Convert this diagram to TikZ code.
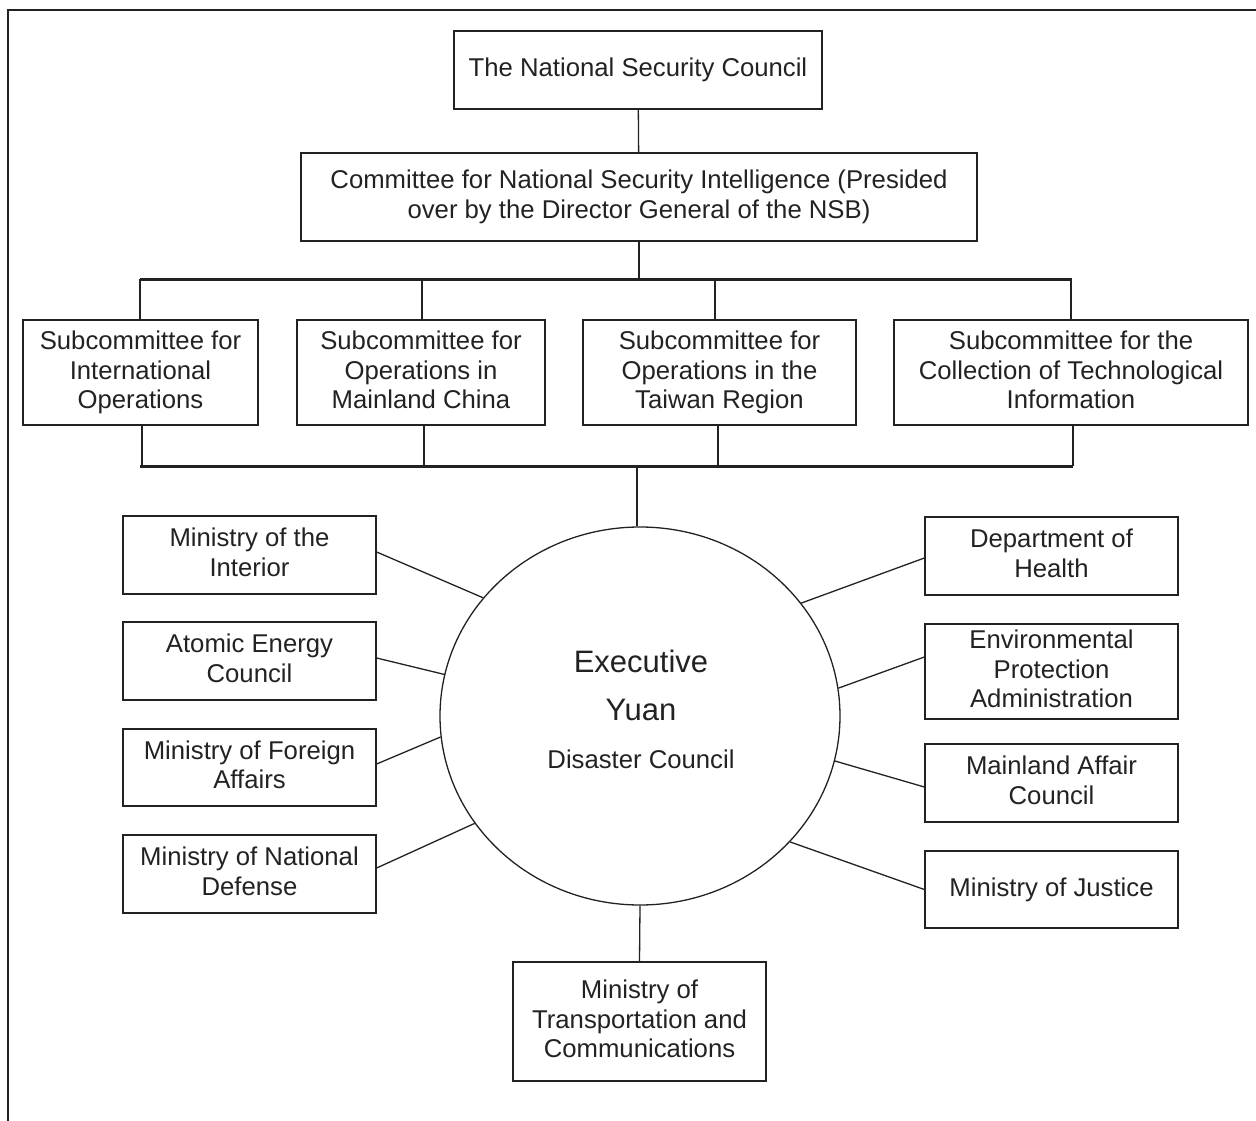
\documentclass[tikz,border=0pt]{standalone}
\usepackage{fontspec}
\setmainfont{Liberation Sans}
\usetikzlibrary{shapes.geometric}
\definecolor{ink}{HTML}{222222}

\begin{document}
\begin{tikzpicture}[x=1pt,y=-1pt,
  box/.style={draw=ink, line width=1.3pt, text=ink, align=center, inner sep=0pt,
              text depth=5.5pt, font=\fontsize{25.7}{29.2}\selectfont},
  sz/.style 2 args={minimum width=#1pt, minimum height=#2pt},
  link/.style={draw=ink, line width=1.3pt},
  bus/.style={draw=ink, line width=3pt},
  frameline/.style={draw=ink, line width=2pt},
  label/.style={text=ink, inner sep=0pt, anchor=base}]

\useasboundingbox (0,0) rectangle (1256,1121);

% outer frame (top and left edges)
\coordinate (fbl) at (8,1121);
\coordinate (ftl) at (8,10);
\coordinate (ftr) at (1256,10);
\draw[frameline] (fbl) -- (ftl) -- (ftr);

% top of the hierarchy
\node[box, sz={368}{78}] (nsc) at (638,70) {The National Security Council};
\node[box, sz={676}{88}] (cnsi) at (639,197)
  {Committee for National Security Intelligence (Presided\\over by the Director General of the NSB)};

% subcommittees
\node[box, sz={235}{105}] (s1) at (140.5,372.5) {Subcommittee for\\International\\Operations};
\node[box, sz={248}{105}] (s2) at (421,372.5) {Subcommittee for\\Operations in\\Mainland China};
\node[box, sz={273}{105}] (s3) at (719.5,372.5) {Subcommittee for\\Operations in the\\Taiwan Region};
\node[box, sz={354}{105}] (s4) at (1071,372.5) {Subcommittee for the\\Collection of Technological\\Information};

% Executive Yuan disaster council
\node[draw=ink, line width=1.3pt, ellipse, inner sep=0pt, sz={400}{378}] (ey) at (640,716) {};
\node[label, font=\fontsize{31}{36}\selectfont] (eyt1) at (641,672) {Executive};
\node[label, font=\fontsize{31}{36}\selectfont] (eyt2) at (641,720) {Yuan};
\node[label, font=\fontsize{25.7}{30}\selectfont] (eyt3) at (641,768) {Disaster Council};

% ministries on the left
\node[box, sz={253}{78}] (moi) at (249.5,555) {Ministry of the\\Interior};
\node[box, sz={253}{78}] (aec) at (249.5,661) {Atomic Energy\\Council};
\node[box, sz={253}{77}] (mofa) at (249.5,767.5) {Ministry of Foreign\\Affairs};
\node[box, sz={253}{78}] (mond) at (249.5,874) {Ministry of National\\Defense};

% ministries on the right
\node[box, sz={253}{78}] (doh) at (1051.5,556) {Department of\\Health};
\node[box, sz={253}{95}] (epa) at (1051.5,671.5) {Environmental\\Protection\\Administration};
\node[box, sz={253}{78}] (mac) at (1051.5,783) {Mainland Affair\\Council};
\node[box, sz={253}{77}] (moj) at (1051.5,889.5) {Ministry of Justice};

% ministry below
\node[box, sz={253}{119}] (mtc) at (639.5,1021.5) {Ministry of\\Transportation and\\Communications};

% upper bus
\coordinate (tbL) at (140,279);
\coordinate (tbR) at (1072,279);
\draw[link] (nsc) -- (cnsi);
\draw[link] (cnsi.south) -- (cnsi.south |- tbL);
\draw[bus] (tbL) -- (tbR);
\draw[link] ([xshift=-0.5pt]s1.north) -- ([xshift=-0.5pt]s1.north |- tbL);
\draw[link] ([xshift=1pt]s2.north) -- ([xshift=1pt]s2.north |- tbL);
\draw[link] ([xshift=-4.5pt]s3.north) -- ([xshift=-4.5pt]s3.north |- tbL);
\draw[link] (s4.north) -- (s4.north |- tbL);

% lower bus
\coordinate (bbL) at (140,466);
\coordinate (bbR) at (1073,466);
\draw[bus] (bbL) -- (bbR);
\draw[link] ([xshift=1.5pt]s1.south) -- ([xshift=1.5pt]s1.south |- bbL);
\draw[link] ([xshift=3pt]s2.south) -- ([xshift=3pt]s2.south |- bbL);
\draw[link] ([xshift=-1.5pt]s3.south) -- ([xshift=-1.5pt]s3.south |- bbL);
\draw[link] ([xshift=2pt]s4.south) -- ([xshift=2pt]s4.south |- bbL);
\draw[link] ([xshift=-3pt]ey.north |- bbL) -- ([xshift=-3pt]ey.north);

% spokes
\draw[link] ([yshift=3pt]moi.east) -- (ey.143);
\draw[link] ([yshift=3pt]aec.east) -- (ey.168.7);
\draw[link] ([yshift=3.5pt]mofa.east) -- (ey.186.1);
\draw[link] ([yshift=6pt]mond.east) -- (ey.213.3);
\draw[link] ([yshift=-2pt]doh.west) -- (ey.35);
\draw[link] ([yshift=14.5pt]epa.west) -- (ey.8.3);
\draw[link] ([yshift=-4pt]mac.west) -- (ey.347.2);
\draw[link] (moj.west) -- (ey.320.5);
\draw[link] (ey.south) -- (mtc.north);

\end{tikzpicture}
\end{document}
